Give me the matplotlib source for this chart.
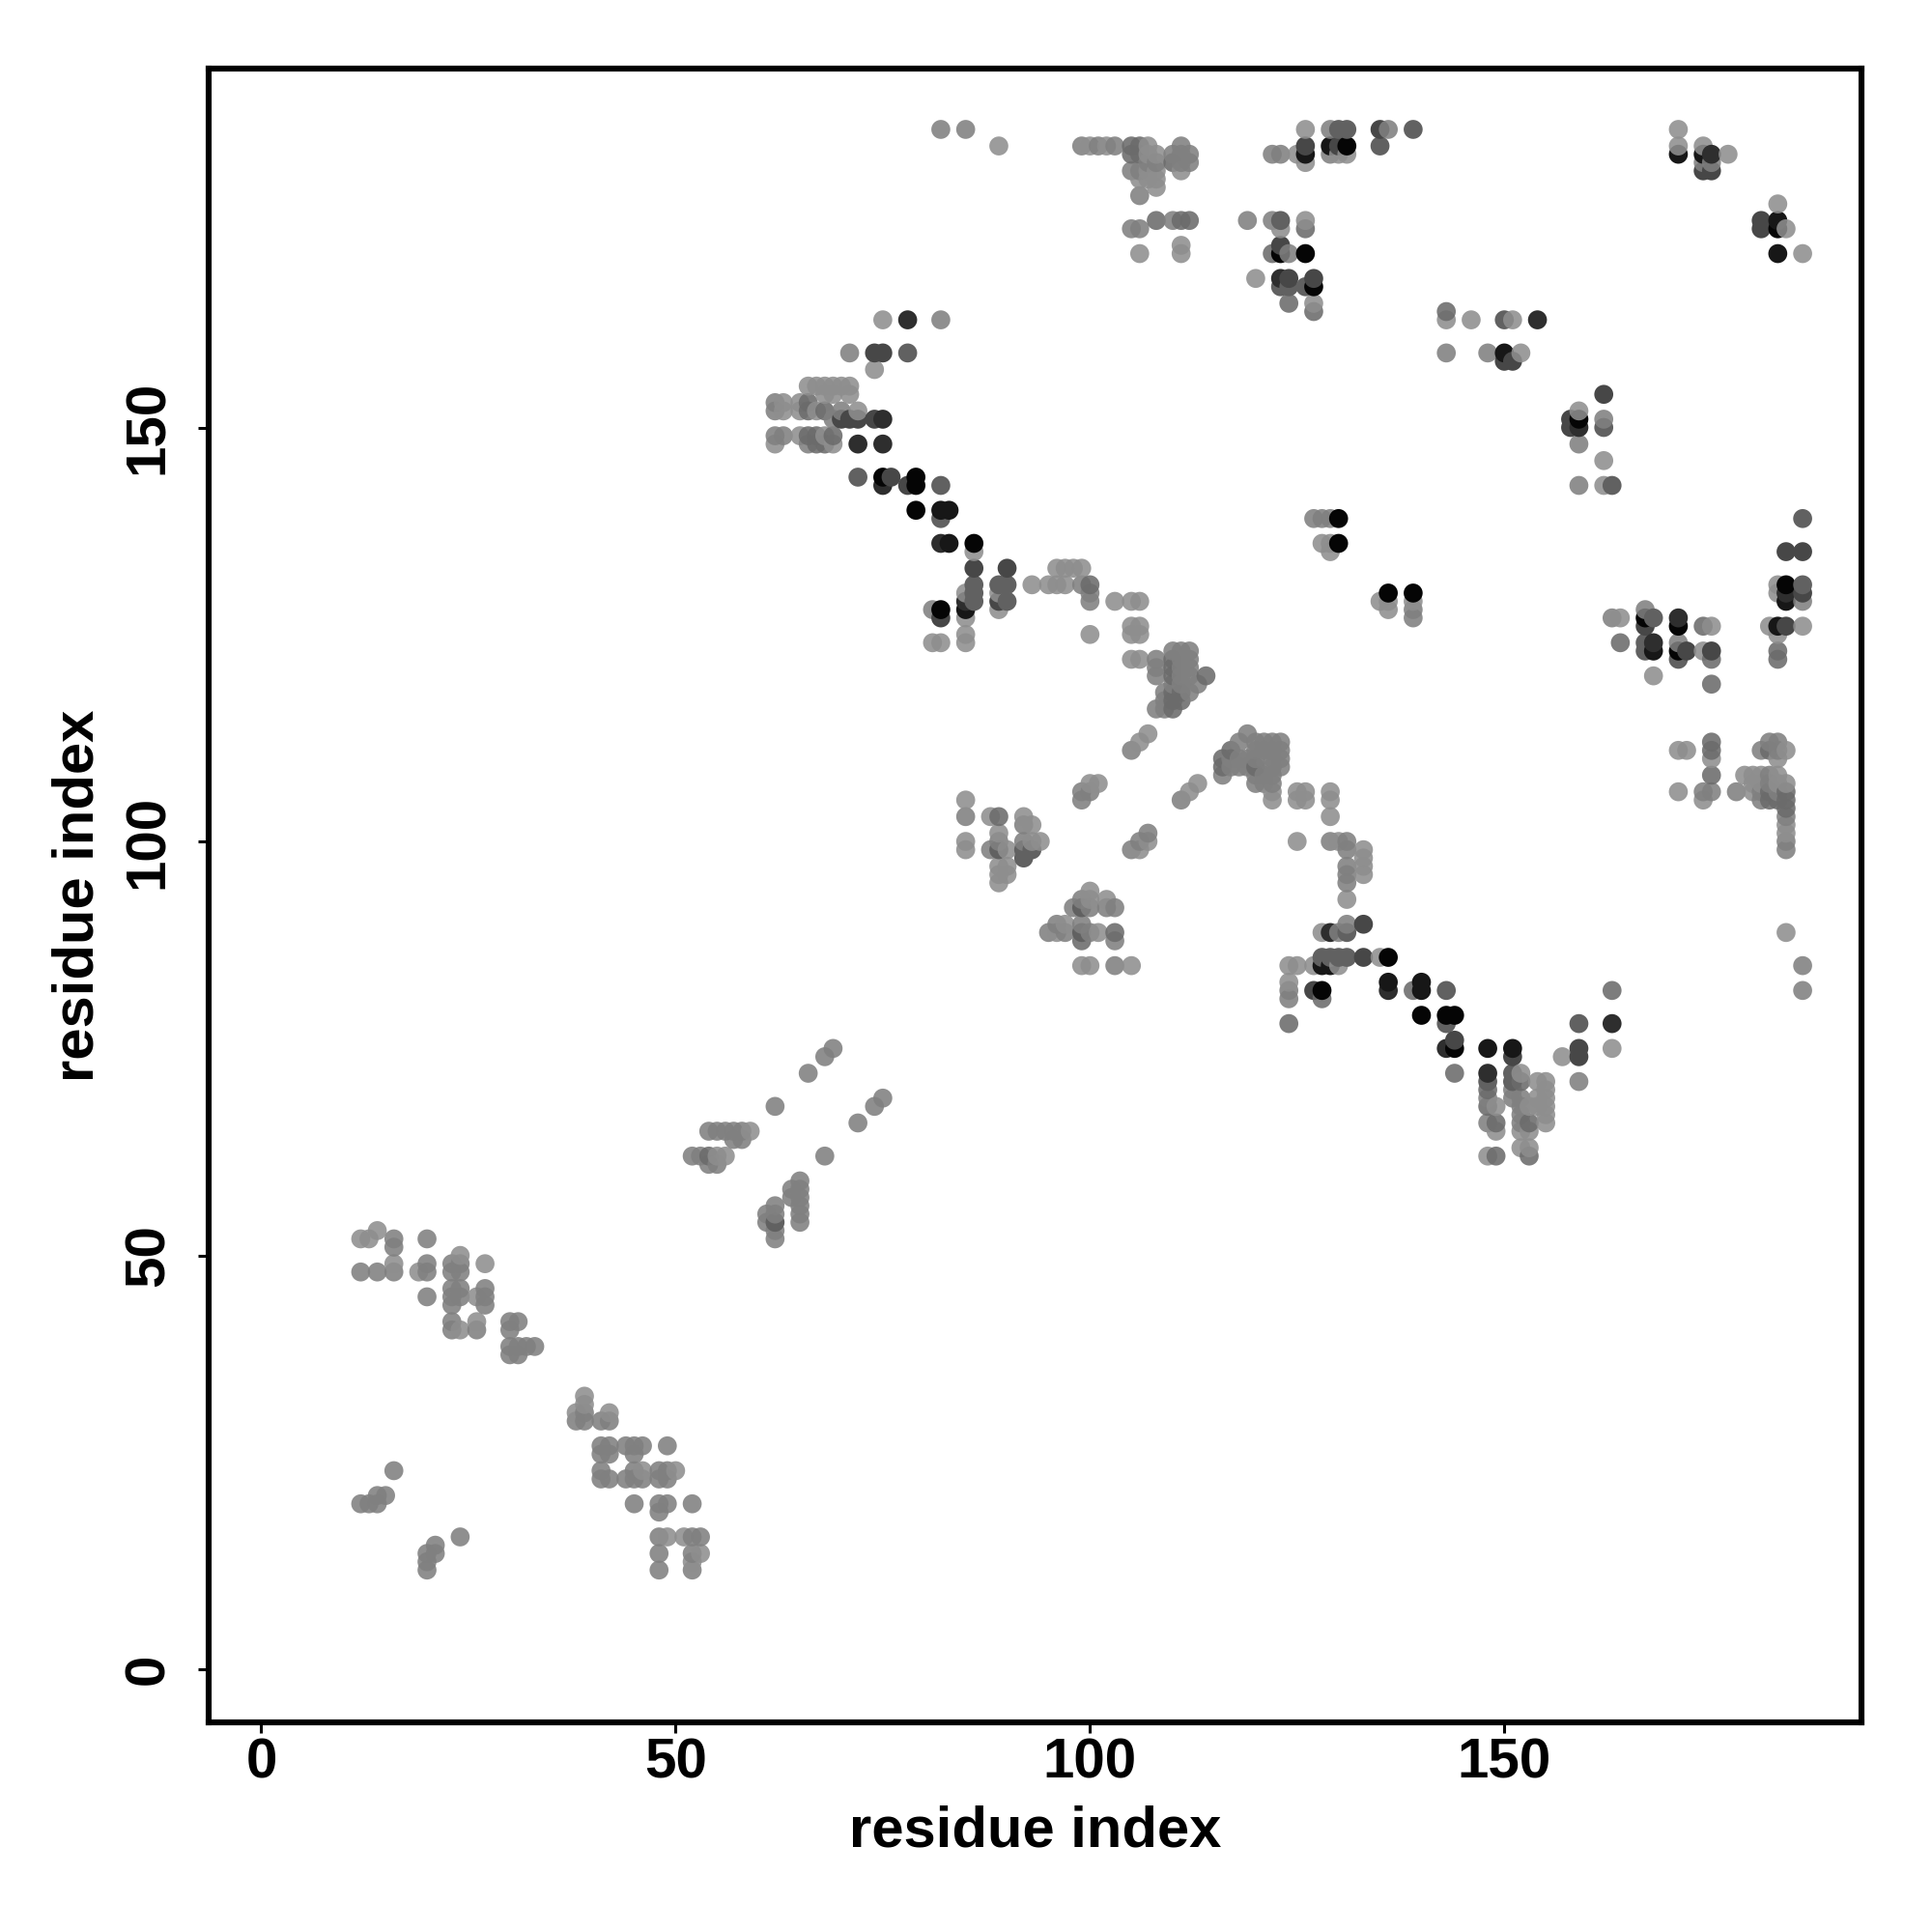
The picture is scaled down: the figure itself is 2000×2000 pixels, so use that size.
import numpy as np
import matplotlib
matplotlib.use('Agg')
import matplotlib.pyplot as plt

plt.rcParams['font.family'] = ['Liberation Sans', 'DejaVu Sans']

# contacts (residue i, residue j), grouped by how dark the dot looks
shade_a = [(75,163),(74,157),(66,155),(67,155),(68,155),(69,155),(70,155),(71,155),(68,154),(69,154),(71,154),
           (63,153),(65,153),(63,152),(65,152),(67,152),(72,152),(65,149),(62,148),(68,149),(69,148),
           (126,186),(93,131),(95,131),(96,131),(97,131),(96,133),(97,133),(98,133),(99,133),
           (103,129),(105,129),(106,129),(105,126),(106,126),(105,125),(106,125),(105,122),(106,122),
           (85,130),(85,127),(85,125),(85,124),(86,135),(89,128),(89,130),(100,125),(81,124),(82,124),
           (107,113),(106,112),(101,107),(100,107),(113,107),(112,106),(107,100),(106,99),
           (85,105),(85,100),(85,99),(88,103),(92,103),(93,102),(89,101),(90,99),(93,100),(94,100),
           (89,97),(90,97),(89,96),(90,96),(89,95),(100,94),(100,93),(102,93),(97,90),(96,89),(101,89),
           (99,85),(100,85),(105,85),(89,184),(100,184),(102,184),(107,184),(108,183),(107,183),(107,181),
           (108,181),(107,180),(108,180),(106,180),(108,179),(111,172),(111,171),(106,171),(111,181),
           (125,183),(130,183),(131,183),(126,182),(171,186),(171,184),(174,184),(177,183),
           (183,177),(184,174),(186,171),(126,175),(123,174),(120,168),(127,165),(143,163),(146,163),
           (151,163),(152,159),(128,136),(129,136),(129,135),(135,129),(136,129),(139,129),(136,128),
           (159,152),(162,146),(162,143),(183,131),(183,130),(182,126),(186,126),(183,125),(164,127),
           (175,126),(174,123),(168,120),(184,89),(184,102),(184,101),(175,110),(171,106),(174,105),
           (171,111),(172,111),(184,111),(183,110),(179,108),(180,108),(181,108),(183,108),(180,107),
           (181,107),(183,107),(184,107),(180,106),(122,106),(122,105),(125,106),(126,106),(125,105),
           (126,105),(129,106),(129,105),(129,103),(125,100),(130,100),(133,99),(133,98),(133,97),
           (133,96),(131,93),(128,89),(130,85),(135,86),(124,85),(125,85),(127,85),(124,83),(163,75),
           (157,74),(152,72),(154,71),(155,71),(155,70),(154,69),(155,69),(149,68),(153,68),(154,68),
           (155,68),(155,67),(155,66),(149,65),(152,65),(153,65),(152,63),(153,63),(148,62),
           (14,53),(16,49),(24,50),(27,49),(26,45),(24,41),(26,42),(39,33),(38,31),(39,32),(42,31),
           (50,24),(46,24),(49,16),(51,16),(53,14),(52,13),(12,52),(13,52),(19,48),(59,65),(55,62),(56,62)]
shade_b = [(62,153),(62,152),(66,152),(69,151),(62,149),(63,149),(70,152),(66,148),(82,163),(71,159),
           (99,131),(100,130),(100,129),(108,122),(108,121),(108,120),(110,123),
           (111,123),(112,123),(112,122),(111,122),(112,121),(111,121),(111,120),(112,120),(113,119),
           (112,118),(111,119),(108,116),(109,116),(109,117),(109,118),(110,119),(105,111),(100,106),
           (99,106),(99,105),(111,105),(107,101),(106,100),(105,99),(85,103),(92,102),(89,100),
           (88,99),(92,100),(99,93),(98,92),(100,92),(102,92),(103,92),(96,90),(99,90),
           (95,89),(97,89),(100,89),(103,88),(103,85),(82,186),(85,186),(99,184),(101,184),(103,184),
           (111,184),(110,183),(111,183),(112,183),(107,182),(108,182),(111,182),(112,182),(105,181),
           (106,181),(106,178),(110,175),(105,174),(106,174),(122,183),(123,183),(129,183),(129,186),
           (136,186),(174,182),(175,182),(119,175),(122,175),(124,171),(143,159),(148,159),
           (127,139),(128,139),(129,139),(139,128),(139,127),(159,148),(159,143),(162,151),(186,129),
           (163,127),(167,128),(171,124),(186,85),(186,82),(184,103),(184,100),(184,99),(174,106),
           (175,106),(178,106),(181,111),(183,111),(183,112),(182,112),(182,108),(182,107),
           (181,106),(183,106),(181,105),(118,112),(119,113),(118,110),(119,110),(118,109),(119,109),
           (116,108),(117,110),(117,109),(120,112),(121,112),(122,112),(123,112),(120,111),(121,111),
           (122,111),(123,111),(122,110),(123,110),(120,110),(122,109),(123,109),(120,108),(121,108),
           (122,108),(120,107),(121,107),(122,107),(131,100),(131,99),(131,97),(131,96),
           (131,95),(129,100),(131,90),(124,82),(124,81),(130,89),(159,71),(151,70),(148,69),
           (151,69),(152,69),(152,68),(152,67),(148,66),(152,66),(81,128),
           (12,48),(14,48),(16,51),(16,48),(20,52),(23,49),(24,49),(23,48),(24,48),(23,46),(24,46),
           (27,46),(27,44),(23,42),(23,41),(26,41),(30,42),(31,42),(30,41),(30,39),(31,39),(32,39),
           (33,39),(30,38),(31,38),(39,31),(38,30),(39,30),(41,30),(42,30),(41,26),(42,26),(45,26),
           (49,27),(41,24),(41,23),(42,23),(45,24),(48,24),(49,24),(48,23),(49,23),(45,23),(46,23),
           (48,19),(48,16),(52,16),(53,16),(48,14),(52,14),(48,12),(52,12),(16,24),(12,20),(13,20),
           (14,21),(14,20),(15,21),(24,16),(21,15),(20,14),(21,14),(20,13),(20,12),(69,75),(68,74),
           (66,72),(62,68),(75,69),(74,68),(72,66),(68,62),(54,65),(55,65),(56,65),(57,65),(58,65),
           (57,64),(58,64),(52,62),(53,62),(54,61),(55,61),(65,59),(64,58),(65,58),(64,57),(65,57),
           (65,56),(65,55),(65,54),(62,56),(61,55),(62,55),(61,54),(62,53),(62,52),
           (16,52),(20,48),(20,49),(20,45),(23,45),(24,45),(23,44),(27,45),(41,27),(42,27),(44,27),
           (45,27),(46,27),(44,23),(45,20),(48,20),(49,20),(52,20)]
shade_c = [(66,153),(66,152),(68,152),(67,149),(66,149),(69,149),(67,148),(68,148),(110,122),(110,121),
           (110,120),(114,120),(110,118),(111,118),(110,117),(111,117),(110,116),(89,103),
           (100,131),(99,88),(103,89),(105,184),(106,184),(106,183),(105,183),(110,182),(108,175),
           (111,175),(112,175),(126,174),(122,171),(124,165),(127,164),(143,164),(183,123),
           (183,122),(174,126),(175,122),(175,119),(164,124),(175,112),(175,111),(175,108),
           (182,111),(182,106),(184,106),(182,105),(183,105),(184,105),(184,104),(116,110),(116,109),
           (117,111),(120,109),(128,81),(139,82),(124,78),(144,72),(152,71),(148,70),(163,82),(149,66),
           (153,66),(149,62),(153,62),(148,68),(54,62)]
shade_d = [(78,159),(72,144),(82,143),(82,139),(86,131),(89,131),(90,131),(86,130),(86,129),
           (89,99),(92,99),(93,99),(92,98),(99,89),(99,92),(123,175),(135,184),
           (130,186),(131,186),(139,186),(162,150),(163,143),(186,139),(186,131),(167,124),
           (168,127),(167,123),(128,86),(129,86),(130,86),(131,86),(131,89),(143,82),(159,78),(148,71),
           (151,72),(151,71),(124,167),(126,167),(123,167),(171,122),(62,54),(90,129),(150,163),(143,78)]
shade_e = [(74,159),(75,159),(71,151),(72,151),(70,151),(74,151),(76,144),(78,143),(86,133),
           (90,133),(89,129),(126,184),(123,172),(130,184),(135,186),(174,181),(175,181),(181,175),
           (181,174),(124,168),(162,154),(158,151),(158,150),(167,126),(184,135),(186,135),
           (184,126),(186,130),(175,123),(172,123),(133,90),(133,86),(127,82),(144,76),(159,75),(159,74),
           (151,74),(127,168),(150,158),(151,158),(82,127)]
shade_f = [(78,163),(72,148),(75,143),(85,129),(82,136),
           (154,163),(175,183),(168,124),(159,150),(129,89),(163,78),
           (148,72),(143,75),(123,168),(184,130),(171,127),(136,82),(75,151),(75,148)]
shade_g = [(83,140),(82,140),(83,136),(129,184),(126,183),(171,183),(174,183),(183,175),(183,171),
           (85,128),(150,159),(184,129),(168,123),(136,83),(140,83),(140,82),(128,85),(129,85),(148,75),
           (151,75),(183,126)]
shade_h = [(75,144),(79,144),(79,143),(79,140),(86,136),(82,128),(131,184),(183,174),(123,171),
           (126,171),(127,167),(130,139),(130,136),(136,130),(139,130),(159,151),(167,127),(171,126),
           (171,123),(184,131),(136,86),(128,82),(140,79),(143,79),(144,79),(144,75)]

shade_levels = [0.61, 0.56, 0.49, 0.38, 0.28, 0.18, 0.09, 0.02]
shade_groups = [shade_a, shade_b, shade_c, shade_d, shade_e, shade_f, shade_g, shade_h]

ticks = [0, 50, 100, 150]

def collect_contacts():
    # darkest entry wins when the same contact was read twice
    seen = {}
    for group, level in zip(shade_groups, shade_levels):
        for pair in group:
            seen[pair] = level
    pairs = np.array(list(seen.keys()))
    levels = np.array(list(seen.values()))
    # later residues sit on top of earlier ones in the reference
    order = np.lexsort((pairs[:, 1], pairs[:, 0]))
    return pairs[order, 0], pairs[order, 1], levels[order]

def main():
    x, y, levels = collect_contacts()

    # light dots let a little of what is below show through
    alpha = np.where(levels > 0.4, 0.88, 1.0)
    gray = (levels - (1 - alpha)) / alpha
    colors = np.column_stack([gray, gray, gray, alpha])

    fig = plt.figure(figsize=(10, 10), dpi=200)
    ax = fig.add_axes([0.108, 0.1085, 0.8555, 0.8558])
    ax.scatter(x, y, s=50, c=colors, linewidths=0)

    ax.set_xlim(-6.35, 193.1)
    ax.set_ylim(-6.4, 193.3)
    ax.set_xticks(ticks)
    ax.set_yticks(ticks)
    ax.tick_params(length=4, width=1.1, labelsize=21)
    ax.tick_params(axis='x', pad=1.5)
    ax.tick_params(axis='y', pad=8.5)
    for label in ax.get_xticklabels():
        label.set_fontweight('bold')
    for label in ax.get_yticklabels():
        label.set_fontweight('bold')
        label.set_rotation(90)
        label.set_va('center')
    for side in ax.spines.values():
        side.set_linewidth(2.2)

    ax.set_xlabel('residue index', fontsize=21.5, fontweight='bold')
    ax.set_ylabel('residue index', fontsize=21.5, fontweight='bold')
    ax.xaxis.set_label_coords(0.5, -0.066)
    ax.yaxis.set_label_coords(-0.079, 0.5)
    ax.xaxis.label.set_va('center')
    ax.yaxis.label.set_va('center')

    fig.savefig('out.png', dpi=200)

if __name__ == "__main__":
    main()
